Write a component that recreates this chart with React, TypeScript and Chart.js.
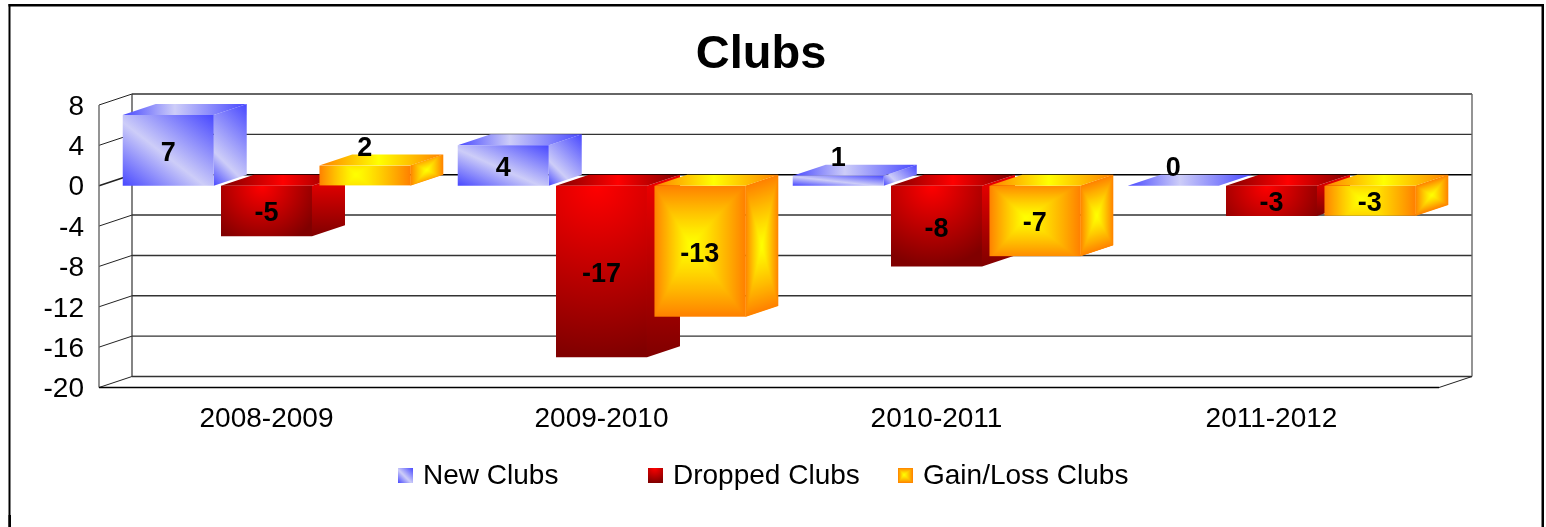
import React, { useEffect, useRef } from "react";
import { Chart, registerables } from "chart.js";

Chart.register(...registerables);

const categories = ["2008-2009", "2009-2010", "2010-2011", "2011-2012"];
const newClubs = [7, 4, 1, 0];
const droppedClubs = [-5, -17, -8, -3];
const gainLossClubs = [2, -13, -7, -3];
const yTicks = { min: -20, max: 8, stepSize: 4 };

const FONT = '"Liberation Sans", Arial, sans-serif';
const DX = 33;
const DY = 11;
const BLUE = "#4848FF";
const LIGHT = "#CDCDF8";
const RED = "#FF0000";
const DARK = "#800000";
const YEL = [255, 255, 0];
const ORG = [255, 128, 0];

type Box = { x0: number; x1: number; top: number; bot: number };

function quad(ctx: CanvasRenderingContext2D, pts: number[][], style: any) {
  ctx.beginPath();
  pts.forEach((p, i) => (i ? ctx.lineTo(p[0], p[1]) : ctx.moveTo(p[0], p[1])));
  ctx.closePath();
  ctx.fillStyle = style;
  ctx.fill();
}

// gradient whose light band runs along the top-left to bottom-right diagonal
function blueDiag(ctx: CanvasRenderingContext2D, x0: number, x1: number, top: number, bot: number) {
  const w = x1 - x0;
  const h = bot - top;
  const len = Math.hypot(w, h) || 1;
  const nx = h / len;
  const ny = -w / len;
  const reach = (w * h) / len;
  const cx = (x0 + x1) / 2;
  const cy = (top + bot) / 2;
  const g = ctx.createLinearGradient(cx - nx * reach, cy - ny * reach, cx + nx * reach, cy + ny * reach);
  g.addColorStop(0, BLUE);
  g.addColorStop(0.45, LIGHT);
  g.addColorStop(1, BLUE);
  return g;
}

// side face: 45 degree sweep from its bottom-left corner to its top-right corner
function blueSide(ctx: CanvasRenderingContext2D, x0: number, x1: number, top: number, bot: number) {
  const s = (x1 - x0 + (bot - top)) / 2;
  const g = ctx.createLinearGradient(x0, bot, x0 + s, bot - s);
  g.addColorStop(0, BLUE);
  g.addColorStop(0.3, LIGHT);
  g.addColorStop(1, BLUE);
  return g;
}

function horiz(ctx: CanvasRenderingContext2D, x0: number, x1: number, a: string, b: string, c: string, mid = 0.42) {
  const g = ctx.createLinearGradient(x0, 0, x1, 0);
  g.addColorStop(0, a);
  g.addColorStop(mid, b);
  g.addColorStop(1, c);
  return g;
}

function redRadial(ctx: CanvasRenderingContext2D, b: Box) {
  const w = b.x1 - b.x0;
  const h = b.bot - b.top;
  const g = ctx.createRadialGradient(b.x0 + w * 0.45, b.top, 0, b.x0 + w * 0.45, b.top, Math.max(h, w * 0.68));
  g.addColorStop(0, RED);
  g.addColorStop(1, DARK);
  return g;
}

// rectangular "path" gradient: yellow centre, orange edge
function yellowPath(ctx: CanvasRenderingContext2D, w: number, h: number, cx: number, cy: number, m: DOMMatrix) {
  const W = Math.max(1, Math.round(w));
  const H = Math.max(1, Math.round(h));
  const off = document.createElement("canvas");
  off.width = W;
  off.height = H;
  const oc = off.getContext("2d")!;
  const img = oc.createImageData(W, H);
  const flat = Math.min(1, (h / w) * 1.2);
  for (let j = 0; j < H; j++) {
    for (let i = 0; i < W; i++) {
      const u = (i + 0.5) / W;
      const v = (j + 0.5) / H;
      const tu = u < cx ? (cx - u) / cx : (u - cx) / (1 - cx);
      const tv = (v < cy ? (cy - v) / cy : (v - cy) / (1 - cy)) * flat;
      const t = Math.pow(Math.max(tu, tv), 1.2);
      const k = (j * W + i) * 4;
      img.data[k] = 255;
      img.data[k + 1] = YEL[1] + (ORG[1] - YEL[1]) * t;
      img.data[k + 2] = 0;
      img.data[k + 3] = 255;
    }
  }
  oc.putImageData(img, 0, 0);
  const p = ctx.createPattern(off, "no-repeat")!;
  p.setTransform(m);
  return p;
}

function frontFill(ctx: CanvasRenderingContext2D, series: number, b: Box) {
  const w = b.x1 - b.x0;
  const h = b.bot - b.top;
  if (series === 0) return blueDiag(ctx, b.x0, b.x1, b.top, b.bot);
  if (series === 1) return redRadial(ctx, b);
  return yellowPath(ctx, w, h, 0.4, 0.45, new DOMMatrix([1, 0, 0, 1, b.x0, b.top]));
}

function drawDepth(ctx: CanvasRenderingContext2D, series: number, b: Box) {
  const { x0, x1, top, bot } = b;
  const h = bot - top;
  const side = [[x1, top], [x1 + DX, top - DY], [x1 + DX, bot - DY], [x1, bot]];
  let sideFill: any;
  let topFill: any;
  if (series === 0) {
    sideFill = blueSide(ctx, x1, x1 + DX, top - DY, bot);
    topFill = horiz(ctx, x0, x1 + DX, BLUE, LIGHT, BLUE);
  } else if (series === 1) {
    const g = ctx.createLinearGradient(0, top - DY, 0, bot);
    g.addColorStop(0, "#F00000");
    g.addColorStop(1, DARK);
    sideFill = g;
    topFill = horiz(ctx, x0, x1 + DX, DARK, RED, DARK, 0.5);
  } else {
    if (h > 0) {
      quad(ctx, side, "#FF9000");
      sideFill = yellowPath(ctx, DX, h, 0.5, 0.5, new DOMMatrix([1, -DY / DX, 0, 1, x1, top]));
    }
    topFill = horiz(ctx, x0, x1 + DX, "#FF8000", "#FFFF00", "#FF8000", 0.48);
  }
  if (h > 0) quad(ctx, side, sideFill);
  quad(ctx, [[x0, top], [x0 + DX, top - DY], [x1 + DX, top - DY], [x1, top]], topFill);
}

function line(ctx: CanvasRenderingContext2D, x0: number, y0: number, x1: number, y1: number, color: string, lw: number) {
  ctx.beginPath();
  ctx.moveTo(x0, y0);
  ctx.lineTo(x1, y1);
  ctx.strokeStyle = color;
  ctx.lineWidth = lw;
  ctx.stroke();
}

function drawWalls(chart: any) {
  const ctx: CanvasRenderingContext2D = chart.ctx;
  const { x, y } = chart.scales;
  const L = x.left;
  const R = x.right;
  y.ticks.forEach((t: any) => {
    const py = y.getPixelForValue(t.value);
    const zero = t.value === 0;
    line(ctx, L, py, L + DX, py - DY, "#222", zero ? 1.6 : 1);
    line(ctx, L + DX, py - DY, R + DX, py - DY, zero ? "#000" : "#333", zero ? 1.6 : 1.4);
  });
  const tp = y.getPixelForValue(yTicks.max);
  const bt = y.getPixelForValue(yTicks.min);
  line(ctx, L, tp, L, bt, "#666", 1.4);
  line(ctx, L + DX, tp - DY, L + DX, bt - DY, "#333", 1.2);
  line(ctx, R + DX, tp - DY, R + DX, bt - DY, "#666", 1.4);
  line(ctx, L, bt, R, bt, "#000", 1.4);
  line(ctx, R, bt, R + DX, bt - DY, "#222", 1);
}

const scenePlugin = {
  id: "scene",
  afterLayout(chart: any) {
    // the title's box is centred on x = 761 like the reference
    chart.titleBlock.left = 0;
    chart.titleBlock.right = 1522;
  },
  beforeDraw(chart: any) {
    const ctx: CanvasRenderingContext2D = chart.ctx;
    ctx.save();
    ctx.fillStyle = "#fff";
    ctx.fillRect(0, 0, chart.width, chart.height);
    ctx.fillStyle = "#000";
    ctx.fillRect(8.5, 4, 1534.5, 2.5);
    ctx.fillRect(8.5, 4, 2, 523);
    ctx.fillRect(1541.5, 4, 2.5, 523);
    ctx.fillRect(8.5, 515, 2.5, 12);
    ctx.restore();
  },
  beforeDatasetsDraw(chart: any) {
    const ctx: CanvasRenderingContext2D = chart.ctx;
    ctx.save();
    drawWalls(chart);
    chart.data.datasets.forEach((_: any, s: number) => {
      const meta = chart.getDatasetMeta(s);
      meta.data.forEach((el: any) => {
        const half = el.width / 2;
        const b: Box = {
          x0: el.x - half,
          x1: el.x + half,
          top: Math.min(el.y, el.base),
          bot: Math.max(el.y, el.base),
        };
        drawDepth(ctx, s, b);
        if (b.bot - b.top > 0) {
          el.options = { ...el.options, backgroundColor: frontFill(ctx, s, b) };
        }
      });
      meta.controller.draw();
    });
    // value labels
    ctx.fillStyle = "#000";
    ctx.font = `bold 27px ${FONT}`;
    ctx.textAlign = "center";
    ctx.textBaseline = "middle";
    chart.data.datasets.forEach((ds: any, s: number) => {
      chart.getDatasetMeta(s).data.forEach((el: any, i: number) => {
        const v = ds.data[i];
        const top = Math.min(el.y, el.base);
        const bot = Math.max(el.y, el.base);
        const ly = bot - top < 28 ? top - 17 : (top + bot) / 2 + 3;
        ctx.fillText(String(v), el.x, ly);
      });
    });
    // legend
    const xs = [398, 648, 898];
    const top = 468;
    chart.data.datasets.forEach((ds: any, s: number) => {
      const x0 = xs[s];
      const b: Box = { x0, x1: x0 + 15, top, bot: top + 15 };
      ctx.fillStyle = frontFill(ctx, s, b);
      ctx.fillRect(x0, top, 15, 15);
      ctx.fillStyle = "#000";
      ctx.font = `28px ${FONT}`;
      ctx.textAlign = "left";
      ctx.textBaseline = "middle";
      ctx.fillText(ds.label, x0 + 25, 476);
    });
    ctx.restore();
    return false;
  },
};

export default function App() {
  const ref = useRef<HTMLCanvasElement>(null);
  useEffect(() => {
    document.body.style.margin = "0";
    const chart = new Chart(ref.current!, {
      type: "bar",
      data: {
        labels: categories,
        datasets: [
          { label: "New Clubs", data: newClubs, backgroundColor: BLUE },
          { label: "Dropped Clubs", data: droppedClubs, backgroundColor: RED },
          { label: "Gain/Loss Clubs", data: gainLossClubs, backgroundColor: "#FFFF00" },
        ],
      },
      options: {
        responsive: false,
        animation: false,
        categoryPercentage: 0.88,
        barPercentage: 0.926,
        layout: { padding: { left: 30, right: 107, top: 0, bottom: 0 } },
        plugins: {
          legend: { display: false },
          tooltip: { enabled: false },
          title: {
            display: true,
            text: "Clubs",
            color: "#000",
            font: { family: FONT, size: 47, weight: "bold" },
            padding: { top: 26.7, bottom: 21.9 },
          },
        },
        scales: {
          x: {
            grid: { display: false },
            border: { display: false },
            ticks: { color: "#000", font: { family: FONT, size: 28 }, padding: 7, maxRotation: 0 },
            afterFit(s: any) {
              s.height = 139.5;
            },
          },
          y: {
            min: yTicks.min,
            max: yTicks.max,
            grid: { display: false },
            border: { display: false },
            ticks: { stepSize: yTicks.stepSize, autoSkip: false, color: "#000", font: { family: FONT, size: 28 }, padding: 7, labelOffset: 2 },
            afterFit(s: any) {
              s.width = 69;
            },
          },
        },
      },
      plugins: [scenePlugin],
    } as any);
    return () => chart.destroy();
  }, []);
  return <canvas ref={ref} width={1546} height={527} style={{ display: "block" }} />;
}
